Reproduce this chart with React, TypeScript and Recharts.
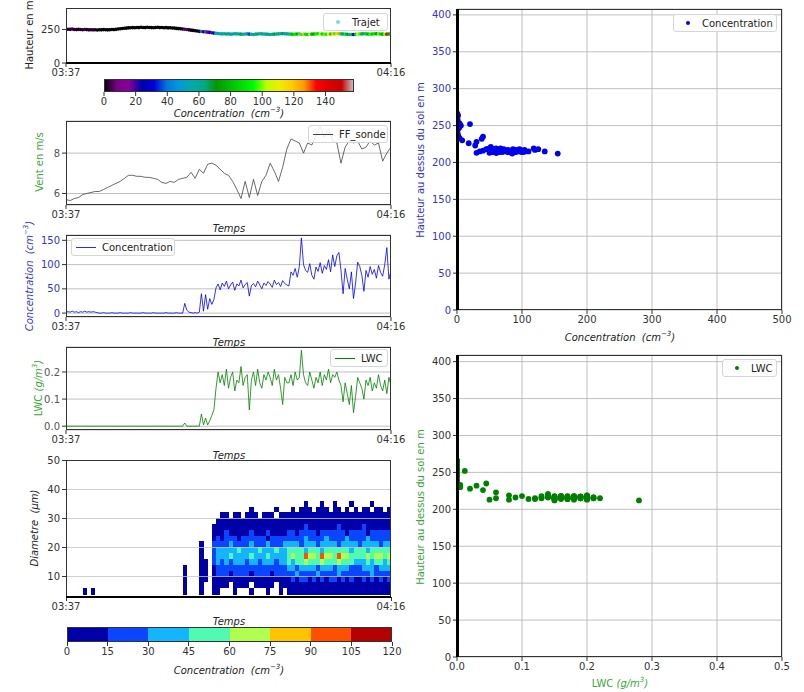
import React from "react";
import {
  CartesianGrid,
  Line,
  LineChart,
  ReferenceArea,
  ReferenceLine,
  Scatter,
  ScatterChart,
  XAxis,
  YAxis,
} from "recharts";

const FONT = "'DejaVu Sans', Verdana, sans-serif";
const INK = "#333";
const GRID = "#b0b0b0";
const BLUE = "#0000ee";
const GREEN = "#008000";
const LABEL_GREEN = "#3aa63a";
const LABEL_BLUE = "#3535c8";

// probe records every 15 s, 03:37 -> 04:16
const SAMPLE_MIN = 0.25;

const concentration = [
  2, 3, 2, 4, 2, 3, 1, 3, 2, 4, 2, 3, 2, 3, 2,
  1, 0, 0, 1, 0, 0, 0, 1, 0, 0, 0, 1, 0, 0, 0, 0, 1, 0, 0, 0,
  0, 0, 1, 0, 0, 0, 0, 1, 0, 0, 0, 0, 0, 1, 0, 0, 0, 0, 1, 0, 0, 0,
  20,
  6, 2, 1, 0, 1, 0, 2,
  40, 4, 38, 8, 30, 18, 28, 52, 60, 48,
  62, 55, 66, 50, 58, 64, 47, 60, 56, 68, 52, 59, 63, 35, 57, 61,
  54, 66, 58, 50, 62, 57, 65, 60, 53, 68, 59, 63, 55, 67, 61, 58,
  56, 85, 78, 92, 74, 96, 155, 100, 88, 84, 102, 78, 70, 95, 86, 104, 82,
  98, 90, 110, 85, 120, 96, 118, 125, 88, 40, 92, 70, 50, 85, 30, 62,
  105, 96, 78, 45, 88, 74, 96, 80, 90, 72, 98, 84, 76, 100, 135, 70, 88,
];

const lwc = [
  0, 0, 0, 0, 0, 0, 0, 0, 0, 0, 0, 0, 0, 0, 0, 0, 0, 0, 0, 0,
  0, 0, 0, 0, 0, 0, 0, 0, 0, 0, 0, 0, 0, 0, 0, 0, 0, 0, 0, 0,
  0, 0, 0, 0, 0, 0, 0, 0, 0, 0, 0, 0, 0, 0, 0, 0, 0,
  0.012,
  0, 0, 0, 0, 0, 0, 0,
  0.045, 0.005, 0.03, 0.005, 0.02, 0.04, 0.06, 0.14, 0.2, 0.16,
  0.19, 0.15, 0.21, 0.14, 0.18, 0.2, 0.13, 0.17, 0.16, 0.22, 0.15, 0.18, 0.19, 0.06, 0.17, 0.2,
  0.15, 0.21, 0.16, 0.14, 0.19, 0.17, 0.2, 0.18, 0.15, 0.21, 0.17, 0.19, 0.14, 0.08, 0.18, 0.16,
  0.16, 0.19, 0.15, 0.2, 0.17, 0.18, 0.28, 0.19, 0.16, 0.15, 0.2, 0.17, 0.14, 0.18, 0.16, 0.2, 0.15,
  0.19, 0.17, 0.21, 0.16, 0.19, 0.18, 0.2, 0.17, 0.15, 0.09, 0.16, 0.12, 0.08, 0.15, 0.05, 0.11,
  0.18, 0.16, 0.14, 0.1, 0.17, 0.15, 0.18, 0.13, 0.16, 0.14, 0.19, 0.15, 0.13, 0.17, 0.12, 0.18, 0.15,
];

const altitude = [
  250, 252, 251, 253, 250, 249, 251, 250, 248, 250, 249, 247, 248,
  247, 248, 246, 248, 247, 249, 248, 247, 248, 250, 249, 251, 253, 255, 257, 259,
  260, 262, 263, 264, 263, 265, 264, 266, 265, 264, 266, 265, 264, 263, 265, 266,
  264, 265, 263, 264, 262, 263, 261, 260,
  258, 256, 255, 253, 252, 250, 247, 245, 243, 240, 238, 236, 235, 233, 232, 230,
  228, 226, 223, 221,
  219, 218, 217, 218, 216, 217, 215, 216, 218, 217, 216, 215, 214, 216, 217, 215,
  214, 213, 215, 216, 218, 217, 216, 215, 214, 213, 214, 215, 216, 217, 218, 219,
  218, 217, 216, 215, 214, 215, 216, 217,
  212, 215, 214, 213, 214, 215, 216, 217, 218, 217, 216, 215, 214, 215, 216, 217,
  218, 219, 218, 217,
  216, 215, 214, 213, 212, 213, 214, 215, 216, 217, 218, 217, 216, 215, 216, 217,
  218, 217, 216, 215, 214, 215, 216, 217,
];

// wind probe, one value every 30 s
const WIND_MIN = 0.5;
const windSpeed = [
  5.7, 5.65, 5.75, 5.8, 5.95, 6.0, 6.05, 6.1, 6.1, 6.2,
  6.3, 6.4, 6.5, 6.6, 6.75, 6.9, 6.9, 6.85, 6.85, 6.8,
  6.8, 6.75, 6.7, 6.55, 6.5, 6.6, 6.55, 6.7, 6.75, 6.8,
  7.05, 6.75, 7.2, 7.0, 7.45, 7.5, 7.4, 7.2, 7.0, 6.9,
  6.6, 6.2, 5.75, 6.6, 5.8, 6.7, 5.9, 6.6, 6.9, 7.5,
  7.1, 6.6, 7.3, 8.2, 8.7, 8.6, 8.5, 8.0, 8.5, 8.4,
  8.9, 9.3, 8.8, 9.2, 8.6, 8.5, 7.5, 8.3, 8.6, 8.5,
  8.6, 8.2, 8.3, 8.6, 8.4, 8.5, 7.6, 8.0, 8.3,
];

const timeTicks = [0, 39];
const timeLabels = ["03:37", "04:16"];

// droplet spectrum: one column every 30 s, rows = diameter bins (top -> bottom)
const SPECTRUM_MIN = 0.5;
const diameterBins = [
  [34, 36], [32, 34], [30, 32], [28, 30], [26, 28], [24, 26], [22, 24], [20, 22],
  [18, 20], [16, 18], [14, 16], [12, 14], [10, 12], [8, 10], [6, 8], [3.5, 6],
];
// digit = concentration class (0 empty, 1 = 0-15, 2 = 15-30 ... 8 = 105-120)
const spectrumRows = [
  "000000 000000 000000 000000 000000 000000 | 00000000000000000 | 0000100010010001000010000",
  "000000 000000 000000 000000 000000 000000 | 00000000100000100 | 0101110111011010101101101",
  "000000 000000 000000 000000 000000 000000 | 01101101110111011 | 1111111111111111111111111",
  "000000 000000 000000 000000 000000 000000 | 11111111111111111 | 1111111111111111111111111",
  "000000 000000 000000 000000 000000 000001 | 11111111111111111 | 1111211111112111112111111",
  "000000 000000 000000 000000 000000 000001 | 11211111211121111 | 2212222122222212222122222",
  "000000 000000 000000 000000 000000 000001 | 21222122222212222 | 2222322223222232222322222",
  "000000 000000 000000 000000 000000 001002 | 22232222322232223 | 3332333233332333323333233",
  "000000 000000 000000 000000 000000 001002 | 33333433334333433 | 4444344434444443444344444",
  "000000 000000 000000 000000 000000 001002 | 33343333433343333 | 4544755475547554444545545",
  "000000 000000 000000 000000 000000 001102 | 32323332332333233 | 4344544454445444333434434",
  "000000 000000 000000 000000 000010 001101 | 22222222222222222 | 3323333233323332223332333",
  "000000 000000 000000 000000 000010 001101 | 22212222122221222 | 2232222322223222222232222",
  "000000 000000 000000 000000 000010 001101 | 11111111111111111 | 1212212121221212112121212",
  "000000 000000 000000 000000 000010 001001 | 11101111011111011 | 1111111111111111111111111",
  "000010 100000 000000 000000 000010 001001 | 10001000100010010 | 1111111111111111111111111",
];

const jetLevels = [0, 15, 30, 45, 60, 75, 90, 105, 120];
const jetColors = ["#0000a8", "#0a46ff", "#14b4ff", "#50fab0", "#b0ff50", "#ffc400", "#ff5000", "#b40000"];

const concScaleMax = 158;
const concScaleTicks = [0, 20, 40, 60, 80, 100, 120, 140];
const nipyStops: [number, string][] = [
  [0.0, "#000000"], [0.05, "#770088"], [0.1, "#880099"], [0.15, "#0000aa"],
  [0.2, "#0000dd"], [0.25, "#0077dd"], [0.3, "#0099dd"], [0.35, "#00aaaa"],
  [0.4, "#00aa88"], [0.45, "#009900"], [0.5, "#00bb00"], [0.55, "#00dd00"],
  [0.6, "#00ff00"], [0.65, "#bbff00"], [0.7, "#eeee00"], [0.75, "#ffcc00"],
  [0.8, "#ff9900"], [0.85, "#ff0000"], [0.9, "#dd0000"], [0.95, "#cc0000"],
  [1.0, "#cccccc"],
];

const altTicks = [0, 50, 100, 150, 200, 250, 300, 350, 400];
const concTicks = [0, 100, 200, 300, 400, 500];
const lwcTicks = [0, 0.1, 0.2, 0.3, 0.4, 0.5];

// ---- derived tables ----
const samples = concentration.map((c, i) => ({ t: i * SAMPLE_MIN, conc: c, lwc: lwc[i], alt: altitude[i] }));
const windData = windSpeed.map((v, i) => ({ t: i * WIND_MIN, wind: v }));

type Cell = { t0: number; t1: number; d0: number; d1: number; level: number; t: number; d: number };
const cells: Cell[] = [];
spectrumRows.forEach((row, r) => {
  const s = row.replace(/[^0-9]/g, "");
  const [lo, hi] = diameterBins[r];
  let c = 0;
  while (c < s.length) {
    const k = Number(s[c]);
    let e = c + 1;
    while (e < s.length && Number(s[e]) === k) e++;
    if (k > 0)
      cells.push({ t0: c * SPECTRUM_MIN, t1: e * SPECTRUM_MIN, d0: lo, d1: hi, level: k, t: ((c + e) / 2) * SPECTRUM_MIN, d: (lo + hi) / 2 });
    c = e;
  }
});

const jetPoints = jetLevels.map((v) => ({ v, y: 0.5 }));
const nipyPoints = concScaleTicks.map((v) => ({ v, y: 0.5 }));

function hexToRgb(h: string) {
  return [1, 3, 5].map((i) => parseInt(h.slice(i, i + 2), 16));
}
function nipy(value: number) {
  const p = Math.max(0, Math.min(1, value / concScaleMax));
  for (let i = 1; i < nipyStops.length; i++) {
    const [p1, c1] = nipyStops[i];
    if (p <= p1) {
      const [p0, c0] = nipyStops[i - 1];
      const f = (p - p0) / (p1 - p0);
      const a = hexToRgb(c0);
      const b = hexToRgb(c1);
      return `rgb(${a.map((x, j) => Math.round(x + (b[j] - x) * f)).join(",")})`;
    }
  }
  return nipyStops[nipyStops.length - 1][1];
}

// ---- layout helpers ----
type Rect = { x: number; y: number; w: number; h: number };
const YW = 50;
const XH = 24;
const MT = 4;
const MR = 22;

function frame(r: Rect, hideY = false, yw = YW) {
  return {
    style: { position: "absolute" as const, left: r.x - yw, top: r.y - MT },
    width: r.w + yw + MR,
    height: r.h + MT + XH,
    margin: { top: MT, right: MR, bottom: 0, left: hideY ? yw : 0 },
  };
}

const tick = (fill = INK) => ({ fontSize: 10, fontFamily: FONT, fill });

function timeAxis() {
  return (
    <XAxis
      type="number"
      dataKey="t"
      domain={[0, 39]}
      ticks={timeTicks}
      interval={0}
      allowDataOverflow
      tickFormatter={(v: number) => timeLabels[timeTicks.indexOf(v)] ?? ""}
      tick={tick()}
      tickSize={4}
      tickLine={{ stroke: INK }}
      axisLine={false}
      height={XH}
    />
  );
}

function Txt({ x, y, children, color = "#222", italic = false, vertical = false }: any) {
  return (
    <div
      style={{
        position: "absolute",
        left: x,
        top: y,
        transform: `translate(-50%, -50%)${vertical ? " rotate(-90deg)" : ""}`,
        fontFamily: FONT,
        fontSize: 10,
        color,
        fontStyle: italic ? "italic" : "normal",
        whiteSpace: "nowrap",
        lineHeight: 1,
      }}
    >
      {children}
    </div>
  );
}

function Key({ x, y, w, label, color, kind }: any) {
  return (
    <div
      style={{
        position: "absolute",
        left: x,
        top: y,
        width: w,
        height: 18,
        boxSizing: "border-box",
        border: "1px solid #d6d6d6",
        borderRadius: 3,
        background: "rgba(255,255,255,0.85)",
        display: "flex",
        alignItems: "center",
        paddingLeft: kind === "line" ? 4 : 12,
        fontFamily: FONT,
        fontSize: 10,
        color: "#222",
      }}
    >
      {kind === "line" ? (
        <span style={{ display: "inline-block", width: 20, height: 1, background: color, marginRight: 6 }} />
      ) : (
        <span style={{ display: "inline-block", width: 4, height: 4, borderRadius: 2, background: color, marginRight: 12 }} />
      )}
      {label}
    </div>
  );
}

function Spine({ r, thickLeft = false, thickBottom = false }: { r: Rect; thickLeft?: boolean; thickBottom?: boolean }) {
  return (
    <>
      <div style={{ position: "absolute", left: r.x, top: r.y, width: r.w, height: r.h, border: `1px solid ${INK}`, boxSizing: "border-box" }} />
      {thickLeft && <div style={{ position: "absolute", left: r.x - 1, top: r.y, width: 2.5, height: r.h, background: "#000" }} />}
      {thickBottom && <div style={{ position: "absolute", left: r.x, top: r.y + r.h - 1.5, width: r.w, height: 2.5, background: "#000" }} />}
    </>
  );
}

const CONC_LABEL = (
  <>
    Concentration&nbsp;&nbsp;(cm<sup style={{ fontSize: 7 }}>−3</sup>)
  </>
);
const LWC_LABEL = (
  <>
    <span style={{ fontStyle: "normal" }}>LWC</span> (g/m<sup style={{ fontSize: 7 }}>3</sup>)
  </>
);

export default function App() {
  const p1: Rect = { x: 66, y: 8, w: 325, h: 55 };
  const cb1: Rect = { x: 104, y: 79, w: 250, h: 13 };
  const p2: Rect = { x: 66, y: 121, w: 325, h: 84 };
  const p3: Rect = { x: 66, y: 235, w: 325, h: 82 };
  const p4: Rect = { x: 66, y: 347, w: 325, h: 83 };
  const p5: Rect = { x: 66, y: 460, w: 325, h: 137 };
  const cb2: Rect = { x: 67, y: 627, w: 325, h: 15 };
  const r1: Rect = { x: 457, y: 9, w: 325, h: 301 };
  const r2: Rect = { x: 457, y: 355, w: 325, h: 302 };

  const f1 = frame(p1);
  const fc1 = frame(cb1, true, 20);
  const f2 = frame(p2);
  const f3 = frame(p3);
  const f4 = frame(p4);
  const f5 = frame(p5);
  const fc2 = frame(cb2, true, 20);
  const fr1 = frame(r1);
  const fr2 = frame(r2);

  return (
    <div style={{ position: "absolute", left: 0, top: 0, width: 804, height: 692, background: "#fff", overflow: "hidden" }}>
      {/* trajectory coloured by concentration */}
      <div style={f1.style}>
        <ScatterChart width={f1.width} height={f1.height} margin={f1.margin}>
          {timeAxis()}
          <YAxis type="number" dataKey="alt" domain={[0, 410]} ticks={[0, 250]} interval={0} allowDataOverflow width={YW} tick={tick()} tickSize={4} tickLine={{ stroke: INK }} axisLine={false} />
          <Scatter
            data={samples}
            isAnimationActive={false}
            shape={(p: any) => <circle cx={p.cx} cy={p.cy} r={1.8} fill={nipy(p.payload.conc)} />}
          />
        </ScatterChart>
      </div>

      {/* continuous colour bar */}
      <div style={fc1.style}>
        <ScatterChart width={fc1.width} height={fc1.height} margin={fc1.margin}>
          <defs>
            <linearGradient id="nipyGrad" x1="0" y1="0" x2="1" y2="0">
              {nipyStops.map(([p, c]) => (
                <stop key={p} offset={`${p * 100}%`} stopColor={c} />
              ))}
            </linearGradient>
          </defs>
          <XAxis type="number" dataKey="v" domain={[0, concScaleMax]} ticks={concScaleTicks} interval={0} allowDataOverflow tick={tick()} tickSize={4} tickLine={{ stroke: INK }} axisLine={false} height={XH} />
          <YAxis type="number" dataKey="y" domain={[0, 1]} hide />
          <ReferenceArea x1={0} x2={concScaleMax} y1={0} y2={1} fill="url(#nipyGrad)" fillOpacity={1} stroke="none" />
          <Scatter data={nipyPoints} isAnimationActive={false} shape={() => <g />} />
        </ScatterChart>
      </div>

      {/* wind */}
      <div style={f2.style}>
        <LineChart width={f2.width} height={f2.height} margin={f2.margin} data={windData}>
          <CartesianGrid vertical={false} stroke={GRID} strokeWidth={0.8} />
          {timeAxis()}
          <YAxis type="number" domain={[5.43, 9.59]} ticks={[6, 8]} interval={0} allowDataOverflow width={YW} tick={tick("#555")} tickSize={4} tickLine={{ stroke: INK }} axisLine={false} />
          <Line dataKey="wind" stroke="#444" strokeWidth={0.8} dot={false} isAnimationActive={false} />
        </LineChart>
      </div>

      {/* concentration */}
      <div style={f3.style}>
        <LineChart width={f3.width} height={f3.height} margin={f3.margin} data={samples}>
          <CartesianGrid vertical={false} stroke={GRID} strokeWidth={0.8} />
          {timeAxis()}
          <YAxis type="number" domain={[-8, 161]} ticks={[0, 50, 100, 150]} interval={0} allowDataOverflow width={YW} tick={tick(LABEL_BLUE)} tickSize={4} tickLine={{ stroke: INK }} axisLine={false} />
          <Line dataKey="conc" stroke={BLUE} strokeWidth={0.8} dot={false} isAnimationActive={false} />
        </LineChart>
      </div>

      {/* LWC */}
      <div style={f4.style}>
        <LineChart width={f4.width} height={f4.height} margin={f4.margin} data={samples}>
          <CartesianGrid vertical={false} stroke={GRID} strokeWidth={0.8} />
          {timeAxis()}
          <YAxis type="number" domain={[-0.014, 0.292]} ticks={[0, 0.1, 0.2]} interval={0} allowDataOverflow tickFormatter={(v: number) => v.toFixed(1)} width={YW} tick={tick("#555")} tickSize={4} tickLine={{ stroke: INK }} axisLine={false} />
          <Line dataKey="lwc" stroke={GREEN} strokeWidth={0.8} dot={false} isAnimationActive={false} />
        </LineChart>
      </div>

      {/* droplet spectrum */}
      <div style={{ ...f5.style, shapeRendering: "crispEdges" }}>
        <ScatterChart width={f5.width} height={f5.height} margin={f5.margin}>
          {timeAxis()}
          <YAxis type="number" dataKey="d" domain={[2.9, 50]} ticks={[10, 20, 30, 40, 50]} interval={0} allowDataOverflow width={YW} tick={tick()} tickSize={4} tickLine={{ stroke: INK }} axisLine={false} />
          {cells.map((c, i) => (
            <ReferenceArea key={i} x1={c.t0} x2={c.t1} y1={c.d0} y2={c.d1} fill={jetColors[c.level - 1]} fillOpacity={1} stroke="none" ifOverflow="hidden" />
          ))}
          {[10, 20, 30, 40].map((v) => (
            <ReferenceLine key={v} y={v} stroke="#c4c4c4" strokeWidth={0.8} />
          ))}
          <Scatter data={cells} isAnimationActive={false} shape={() => <g />} />
        </ScatterChart>
      </div>

      {/* discrete colour bar */}
      <div style={{ ...fc2.style, shapeRendering: "crispEdges" }}>
        <ScatterChart width={fc2.width} height={fc2.height} margin={fc2.margin}>
          <XAxis type="number" dataKey="v" domain={[0, 120]} ticks={jetLevels} interval={0} allowDataOverflow tick={tick()} tickSize={4} tickLine={{ stroke: INK }} axisLine={false} height={XH} />
          <YAxis type="number" dataKey="y" domain={[0, 1]} hide />
          {jetColors.map((c, i) => (
            <ReferenceArea key={c} x1={jetLevels[i]} x2={jetLevels[i + 1]} y1={0} y2={1} fill={c} fillOpacity={1} stroke="none" />
          ))}
          <Scatter data={jetPoints} isAnimationActive={false} shape={() => <g />} />
        </ScatterChart>
      </div>

      {/* altitude vs concentration */}
      <div style={fr1.style}>
        <ScatterChart width={fr1.width} height={fr1.height} margin={fr1.margin}>
          <CartesianGrid stroke={GRID} strokeWidth={0.8} />
          <XAxis type="number" dataKey="conc" domain={[0, 500]} ticks={concTicks} interval={0} allowDataOverflow tick={tick()} tickSize={4} tickLine={{ stroke: INK }} axisLine={false} height={XH} />
          <YAxis type="number" dataKey="alt" domain={[0, 408]} ticks={altTicks} interval={0} allowDataOverflow width={YW} tick={tick(LABEL_BLUE)} tickSize={4} tickLine={{ stroke: INK }} axisLine={false} />
          <Scatter data={samples} isAnimationActive={false} shape={(p: any) => <circle cx={p.cx} cy={p.cy} r={2.9} fill={BLUE} />} />
        </ScatterChart>
      </div>

      {/* altitude vs LWC */}
      <div style={fr2.style}>
        <ScatterChart width={fr2.width} height={fr2.height} margin={fr2.margin}>
          <CartesianGrid stroke={GRID} strokeWidth={0.8} />
          <XAxis type="number" dataKey="lwc" domain={[0, 0.5]} ticks={lwcTicks} interval={0} allowDataOverflow tickFormatter={(v: number) => v.toFixed(1)} tick={tick()} tickSize={4} tickLine={{ stroke: INK }} axisLine={false} height={XH} />
          <YAxis type="number" dataKey="alt" domain={[0, 409]} ticks={altTicks} interval={0} allowDataOverflow width={YW} tick={tick()} tickSize={4} tickLine={{ stroke: INK }} axisLine={false} />
          <Scatter data={samples} isAnimationActive={false} shape={(p: any) => <circle cx={p.cx} cy={p.cy} r={2.9} fill={GREEN} />} />
        </ScatterChart>
      </div>

      {/* frames */}
      <Spine r={p1} thickBottom />
      <Spine r={cb1} />
      <Spine r={p2} />
      <Spine r={p3} />
      <Spine r={p4} />
      <Spine r={p5} thickBottom />
      <Spine r={cb2} />
      <Spine r={r1} thickLeft />
      <Spine r={r2} thickLeft />

      {/* legends */}
      <Key x={323} y={13} w={65} label="Trajet" color="#7fd8e0" kind="dot" />
      <Key x={308} y={125} w={80} label="FF_sonde" color="#444" kind="line" />
      <Key x={71} y={238} w={104} label="Concentration" color="#2a2aff" kind="line" />
      <Key x={330} y={349} w={58} label="LWC" color={GREEN} kind="line" />
      <Key x={673} y={14} w={104} label="Concentration" color={BLUE} kind="dot" />
      <Key x={722} y={359} w={55} label="LWC" color={GREEN} kind="dot" />

      {/* axis titles */}
      <Txt x={30} y={35} vertical>Hauteur en m</Txt>
      <Txt x={229} y={113} italic>{CONC_LABEL}</Txt>
      <Txt x={40} y={162} vertical color={LABEL_GREEN}>Vent en m/s</Txt>
      <Txt x={229} y={229} italic>Temps</Txt>
      <Txt x={29} y={276} vertical italic color={LABEL_BLUE}>{CONC_LABEL}</Txt>
      <Txt x={229} y={343} italic>Temps</Txt>
      <Txt x={38} y={388} vertical italic color={LABEL_GREEN}>{LWC_LABEL}</Txt>
      <Txt x={229} y={456} italic>Temps</Txt>
      <Txt x={35} y={528} vertical italic>Diametre&nbsp;&nbsp;(μm)</Txt>
      <Txt x={229} y={622} italic>Temps</Txt>
      <Txt x={229} y={670} italic>{CONC_LABEL}</Txt>
      <Txt x={421} y={160} vertical color={LABEL_BLUE}>Hauteur au dessus du sol en m</Txt>
      <Txt x={620} y={337} italic>{CONC_LABEL}</Txt>
      <Txt x={421} y={507} vertical color={LABEL_GREEN}>Hauteur au dessus du sol en m</Txt>
      <Txt x={620} y={683} italic color={LABEL_GREEN}>{LWC_LABEL}</Txt>
    </div>
  );
}
